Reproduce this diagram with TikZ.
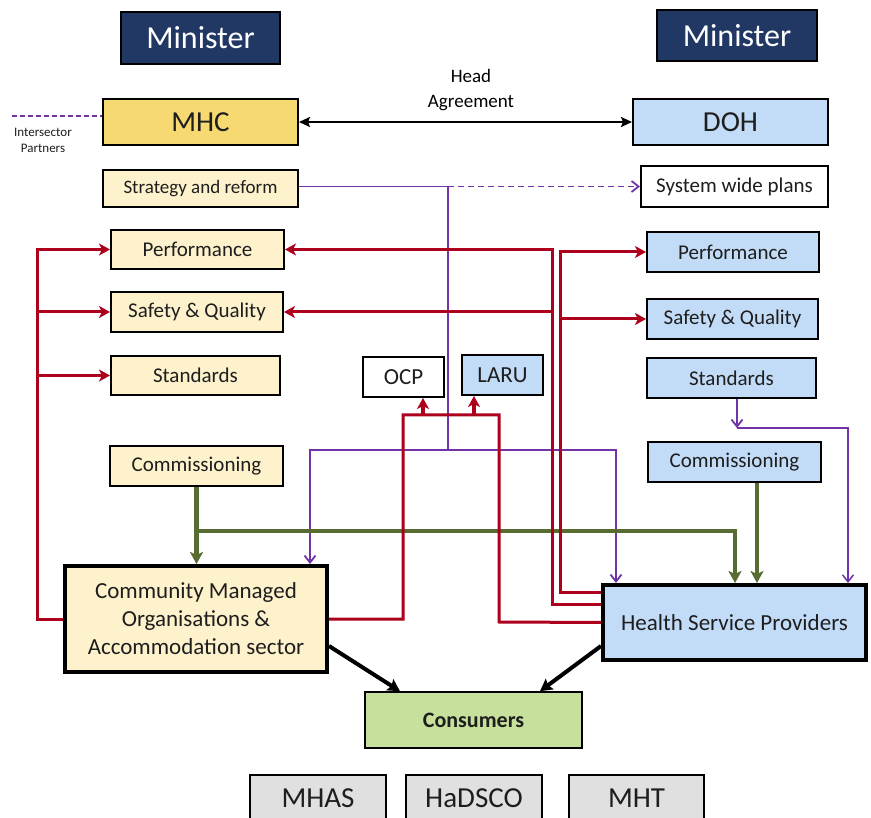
\documentclass[tikz,border=0pt]{standalone}
\usepackage{fontspec}
\setmainfont{Carlito}
\usetikzlibrary{arrows.meta}
\definecolor{navy}{RGB}{34,56,100}
\definecolor{gold}{RGB}{246,217,112}
\definecolor{lyel}{RGB}{254,242,204}
\definecolor{lblu}{RGB}{194,219,247}
\definecolor{lgrn}{RGB}{199,224,155}
\definecolor{lgry}{RGB}{224,224,224}
\definecolor{dred}{RGB}{172,0,28}
\definecolor{purp}{RGB}{112,52,168}
\definecolor{olv}{RGB}{86,108,48}
\definecolor{txt}{RGB}{30,30,30}
\begin{document}
\begin{tikzpicture}[x=1pt,y=-1pt,
  bx/.style={draw=black, line width=2pt, inner sep=0pt, text=txt, align=center, font=\fontsize{21}{25}\selectfont},
  yel/.style={bx, fill=lyel},
  blu/.style={bx, fill=lblu},
  minbx/.style={bx, fill=navy, text=white, font=\fontsize{32}{38}\selectfont},
  bigf/.style={font=\fontsize{29}{34}\selectfont},
  gry/.style={bx, fill=lgry, font=\fontsize{29}{34}\selectfont},
  redl/.style={draw=dred, line width=3pt},
  purl/.style={draw=purp, line width=1.8pt},
  grnl/.style={draw=olv, line width=4.5pt},
  grnh/.style={draw=olv, line width=3.3pt},
  blkl/.style={draw=black, line width=4pt},
  rtip/.style={-{Stealth[length=11pt,width=12pt,inset=3pt]}},
  ptip/.style={-{Straight Barb[length=7pt,width=11pt]}},
  gtip/.style={-{Stealth[length=12pt,width=13pt,inset=3pt]}},
  ktip/.style={-{Stealth[length=12pt,width=13pt,inset=2pt]}}
]
\useasboundingbox (0,0) rectangle (871,818);
\clip (0,0) rectangle (871,818);
\fill[white] (0,0) rectangle (871,818);

% ---- nodes ----
\node[minbx, minimum width=159pt, minimum height=52pt] (minL) at (200.5,38) {Minister};
\node[minbx, minimum width=160pt, minimum height=51pt] (minR) at (737,35.5) {Minister};
\node[bx, bigf, fill=gold, minimum width=195pt, minimum height=46pt] (mhc) at (200.5,122) {MHC};
\node[bx, bigf, fill=lblu, minimum width=195pt, minimum height=46pt] (doh) at (730.5,122) {DOH};
\node[font=\fontsize{19}{25}\selectfont, align=center, text=black] (ha) at (471,90) {Head\\Agreement};
\node[font=\fontsize{13}{16}\selectfont, align=center, text=txt] (isp) at (43,140) {Intersector\\Partners};

\node[yel, font=\fontsize{19}{23}\selectfont, minimum width=195pt, minimum height=37pt] (strat) at (200.5,188.5) {Strategy and reform};
\node[bx, fill=white, minimum width=187pt, minimum height=41pt] (swp) at (734.5,186.5) {System wide plans};

\node[yel, minimum width=173pt, minimum height=39pt] (perfL) at (197.5,249.5) {Performance};
\node[yel, minimum width=172pt, minimum height=40pt] (sqL) at (197,312) {Safety \& Quality};
\node[yel, minimum width=169pt, minimum height=39pt] (stdL) at (195.5,375.5) {Standards};
\node[yel, minimum width=173pt, minimum height=40pt] (comL) at (196.5,466) {Commissioning};

\node[blu, minimum width=172pt, minimum height=40pt] (perfR) at (733,252) {Performance};
\node[blu, minimum width=171pt, minimum height=40pt] (sqR) at (732.5,319) {Safety \& Quality};
\node[blu, minimum width=169pt, minimum height=40pt] (stdR) at (731.5,378) {Standards};
\node[blu, minimum width=173pt, minimum height=40pt] (comR) at (734.5,462) {Commissioning};

\node[bx, fill=white, font=\fontsize{23}{28}\selectfont, minimum width=81pt, minimum height=40pt] (ocp) at (403.5,377) {OCP};
\node[blu, font=\fontsize{23}{28}\selectfont, minimum width=81pt, minimum height=40pt] (laru) at (502.5,375) {LARU};

\node[yel, line width=4pt, font=\fontsize{23}{28}\selectfont, minimum width=262pt, minimum height=106pt] (cmo) at (196,619) {Community Managed\\Organisations \&\\Accommodation sector};
\node[blu, line width=4pt, font=\fontsize{23}{28}\selectfont, minimum width=263pt, minimum height=75pt] (hsp) at (734.5,622.5) {Health Service Providers};
\node[bx, fill=lgrn, line width=1.6pt, font=\bfseries\fontsize{22}{26}\selectfont, minimum width=217pt, minimum height=56pt] (cons) at (473.5,720) {Consumers};

\node[gry, minimum width=136pt, minimum height=46pt] (mhas) at (318,798) {MHAS};
\node[gry, minimum width=136pt, minimum height=46pt] (hadsco) at (474,798) {HaDSCO};
\node[gry, minimum width=135pt, minimum height=46pt] (mht) at (636.5,798) {MHT};

% ---- helper coordinates ----
\coordinate (ip) at (12,116);
\coordinate (y116) at (0,116);
\coordinate (lx) at (37,0);
\coordinate (y592) at (0,592);
\coordinate (y604) at (0,604);
\coordinate (xb) at (560,0);
\coordinate (xc) at (552,0);
\coordinate (xo) at (423,415);
\coordinate (xl) at (474,415);
\coordinate (px) at (448,0);
\coordinate (py) at (0,450);
\coordinate (xp1) at (310,0);
\coordinate (xp2) at (616,0);
\coordinate (sx) at (737,428);
\coordinate (xs2) at (848,0);
\coordinate (gy) at (0,531);
\coordinate (xg) at (735,0);
\coordinate (xg2) at (757,0);
\coordinate (yk) at (0,646);
\coordinate (k1) at (400,0);
\coordinate (k2) at (540,0);

% ---- connectors ----
% head agreement
\draw[draw=black, line width=2pt, {Stealth[length=11pt,width=10pt,inset=2pt]}-{Stealth[length=11pt,width=10pt,inset=2pt]}] (mhc.east) -- (doh.west);
% intersector partners
\draw[purl, dashed, dash pattern=on 5pt off 3pt] (ip) -- (mhc.west |- y116);

% purple strategy lines
\draw[purl] (strat.east |- swp.west) -| (px |- py);
\draw[purl, dashed, dash pattern=on 6pt off 4pt, ptip] (px |- swp.west) -- (swp.west);
\draw[purl, {Straight Barb[length=7pt,width=11pt]}-{Straight Barb[length=7pt,width=11pt]}] (xp1 |- cmo.north) |- (xp2 |- py) -- (xp2 |- hsp.north);
% standards right
\draw[purl, ptip] (sx |- stdR.south) -- (sx);
\draw[purl, line width=1.5pt, ptip] (sx) -| (xs2 |- hsp.north);

% green commissioning
\draw[grnl, gtip] (comL.south) -- (comL.south |- cmo.north);
\draw[grnh, gtip] (comL.south |- gy) -| (xg |- hsp.north);
\draw[grnl, gtip] (xg2 |- comR.south) -- (xg2 |- hsp.north);

% red left system
\draw[redl, rtip] (cmo.west) -| (lx |- perfL.west) -- (perfL.west);
\draw[redl, rtip] (lx |- sqL.west) -- (sqL.west);
\draw[redl, rtip] (lx |- stdL.west) -- (stdL.west);
% red from HSP to left boxes
\draw[redl, rtip] (hsp.west |- y604) -| (xc |- perfL.east) -- (perfL.east);
\draw[redl, rtip] (xc |- sqL.east) -- (sqL.east);
% red from HSP to right boxes
\draw[redl, rtip] (hsp.west |- y592) -| (xb |- perfR.west) -- (perfR.west);
\draw[redl, rtip] (xb |- sqR.west) -- (sqR.west);
% red CMO - OCP/LARU - HSP
\draw[redl] (cmo.east) -| (403,415) -| (499,622) -- (hsp.west);
\draw[redl, line width=3.5pt, rtip] (xo) -- (xo |- ocp.south);
\draw[redl, line width=3.5pt, rtip] (xl) -- (xl |- laru.south);

% black to consumers
\draw[blkl, ktip] (cmo.east |- yk) -- (k1 |- cons.north);
\draw[blkl, ktip] (hsp.west |- yk) -- (k2 |- cons.north);
\end{tikzpicture}
\end{document}
